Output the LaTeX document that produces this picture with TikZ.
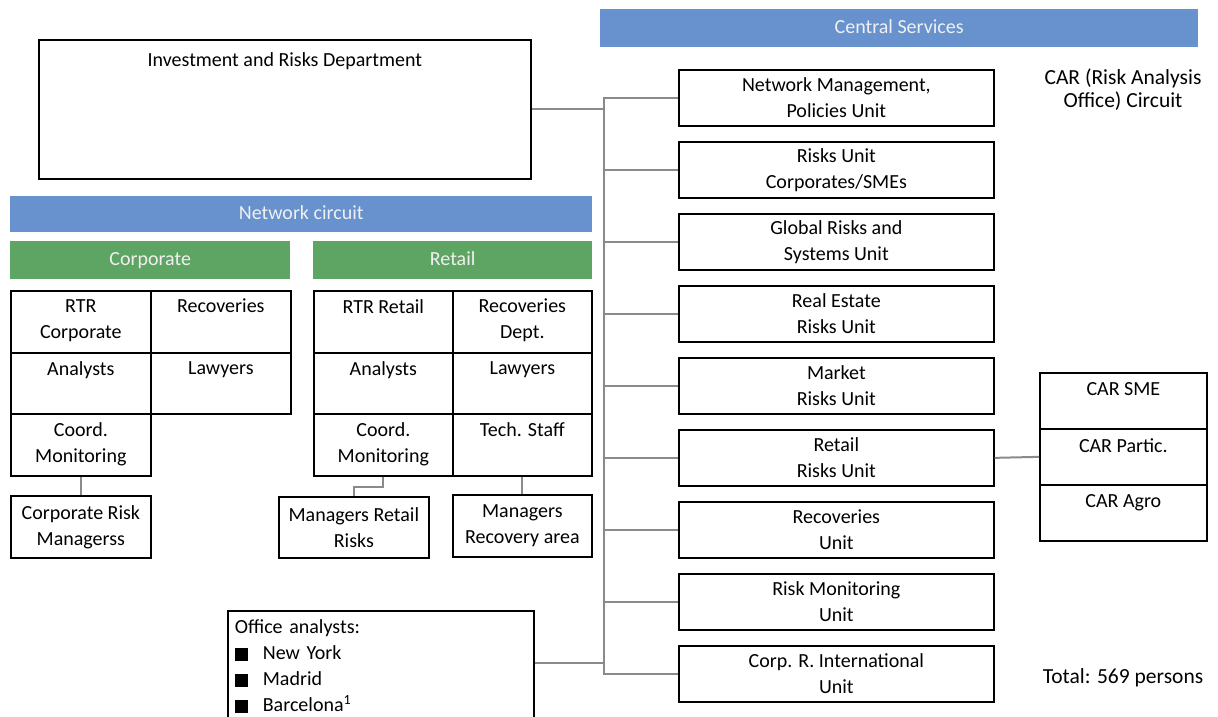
\documentclass[tikz,border=0pt]{standalone}
\usepackage{fontspec}
\setmainfont{Carlito}
\definecolor{barblue}{HTML}{6792CD}
\definecolor{bargreen}{HTML}{5EA563}
\definecolor{linkgray}{HTML}{8A8A8A}
\newcommand{\orgfont}{\fontsize{20}{26}\selectfont}
\newcommand{\officebullet}{\rule[-1pt]{13pt}{13pt}\hspace{15pt}}

\begin{document}
\begin{tikzpicture}[x=1pt,y=-1pt,
	unit/.style={draw, line width=1.7pt, anchor=north west, align=center, inner sep=0pt, font=\orgfont},
	bar/.style={fill=#1, text=white!94!black, anchor=north west, inner sep=0pt, text height=14pt, text depth=4pt, font=\orgfont},
	toptext/.style={anchor=north, align=center, inner sep=#1, font=\orgfont},
	toptext/.default=9pt,
	link/.style={draw=linkgray, line width=2pt},
	note/.style={align=center, inner sep=0pt, font=\fontsize{21.5}{23}\selectfont}]
	
	\useasboundingbox (0,0) rectangle (1218,716);
	
	\node[bar=barblue, minimum width=598pt, minimum height=38pt] (central) at (600,9) {Central Services};
	\node[bar=barblue, minimum width=582pt, minimum height=36pt] (network) at (10,196) {Network circuit};
	\node[bar=bargreen, minimum width=280pt, minimum height=38pt] (corpbar) at (10,241) {Corporate};
	\node[bar=bargreen, minimum width=279pt, minimum height=38pt] (retailbar) at (313,241) {Retail};
	
	\node[unit, minimum width=492pt, minimum height=139pt, label={[toptext=13pt]north:Investment and Risks Department}] (inv) at (38,39) {};
	
	\foreach \n/\t [count=\i from 0] in {nm/{Network Management,\\Policies Unit}, rcs/{Risks Unit\\Corporates/SMEs}, grs/{Global Risks and\\Systems Unit}, res/{Real Estate\\Risks Unit}, mru/{Market\\Risks Unit}, rru/{Retail\\Risks Unit}, rcu/{Recoveries\\Unit}, rmu/{Risk Monitoring\\Unit}, cri/{Corp. R. International\\Unit}}
	\node[unit, minimum width=315pt, minimum height=56pt] (\n) at (678,69+72*\i) {\t};
	
	% corporate cells
	\node[unit, minimum width=140pt, minimum height=62pt, label={[toptext]north:{RTR\\Corporate}}] (crtr) at (10,290) {};
	\node[unit, minimum width=140pt, minimum height=62pt, label={[toptext]north:Recoveries}] (crec) at (150,290) {};
	\node[unit, minimum width=140pt, minimum height=61pt, label={[toptext]north:Analysts}] (cana) at (10,352) {};
	\node[unit, minimum width=140pt, minimum height=61pt, label={[toptext]north:Lawyers}] (claw) at (150,352) {};
	\node[unit, minimum width=140pt, minimum height=62pt, label={[toptext]north:{Coord.\\Monitoring}}] (ccm) at (10,413) {};
	
	% retail cells
	\node[unit, minimum width=139pt, minimum height=62pt, label={[toptext]north:RTR Retail}] (rrtr) at (313,290) {};
	\node[unit, minimum width=139pt, minimum height=62pt, label={[toptext]north:{Recoveries\\Dept.}}] (rrec) at (452,290) {};
	\node[unit, minimum width=139pt, minimum height=61pt, label={[toptext]north:Analysts}] (rana) at (313,352) {};
	\node[unit, minimum width=139pt, minimum height=61pt, label={[toptext]north:Lawyers}] (rlaw) at (452,352) {};
	\node[unit, minimum width=139pt, minimum height=62pt, label={[toptext]north:{Coord.\\Monitoring}}] (rcm) at (313,413) {};
	\node[unit, minimum width=139pt, minimum height=62pt, label={[toptext]north:Tech. Staff}] (rts) at (452,413) {};
	
	\node[unit, minimum width=140pt, minimum height=62pt] (crm) at (10,495) {Corporate Risk\\Managerss};
	\node[unit, minimum width=150pt, minimum height=61pt] (mrr) at (278,496) {Managers Retail\\Risks};
	\node[unit, minimum width=139pt, minimum height=62pt] (mra) at (452,494) {Managers\\Recovery area};
	
	\node[unit, minimum width=167pt, minimum height=56pt, label={[toptext=10pt]north:CAR SME}] (carsme) at (1039,372) {};
	\node[unit, minimum width=167pt, minimum height=56pt, label={[toptext=10pt]north:CAR Partic.}] (carpartic) at (1039,428) {};
	\node[unit, minimum width=167pt, minimum height=56pt, label={[toptext=10pt]north:CAR Agro}] (caragro) at (1039,484) {};
	
	\node[unit, align=left, text width=292pt, inner xsep=7pt, inner ysep=9pt] (office) at (227,610) {Office analysts:\\ \officebullet New York\\ \officebullet Madrid\\ \officebullet Barcelona\textsuperscript{1}};
	
	\node[note] (carnote) at (1123,90) {CAR (Risk Analysis\\Office) Circuit};
	\node[note] (total) at (1123,678) {Total: 569 persons};
	
	\coordinate (spine) at (604,0);
	\coordinate (ojoin) at (604,663);
	
	\draw[link] (nm.west) -- (nm.west -| spine) |- (cri.west);
	\foreach \n in {rcs,grs,res,mru,rru,rcu,rmu}
	\draw[link] (\n.west) -- (\n.west -| spine);
	\draw[link] (inv.east) -- (inv.east -| spine);
	\draw[link] (office.east |- ojoin) -- (ojoin);
	\draw[link] (rru.east) -- (carpartic.west);
	
	\draw[link] (ccm.south) -- (crm.north);
	\draw[link] (rcm.south) -- ++(0,10) -| (mrr.north);
	\draw[link] (rts.south) -- (mra.north);
\end{tikzpicture}
\end{document}
